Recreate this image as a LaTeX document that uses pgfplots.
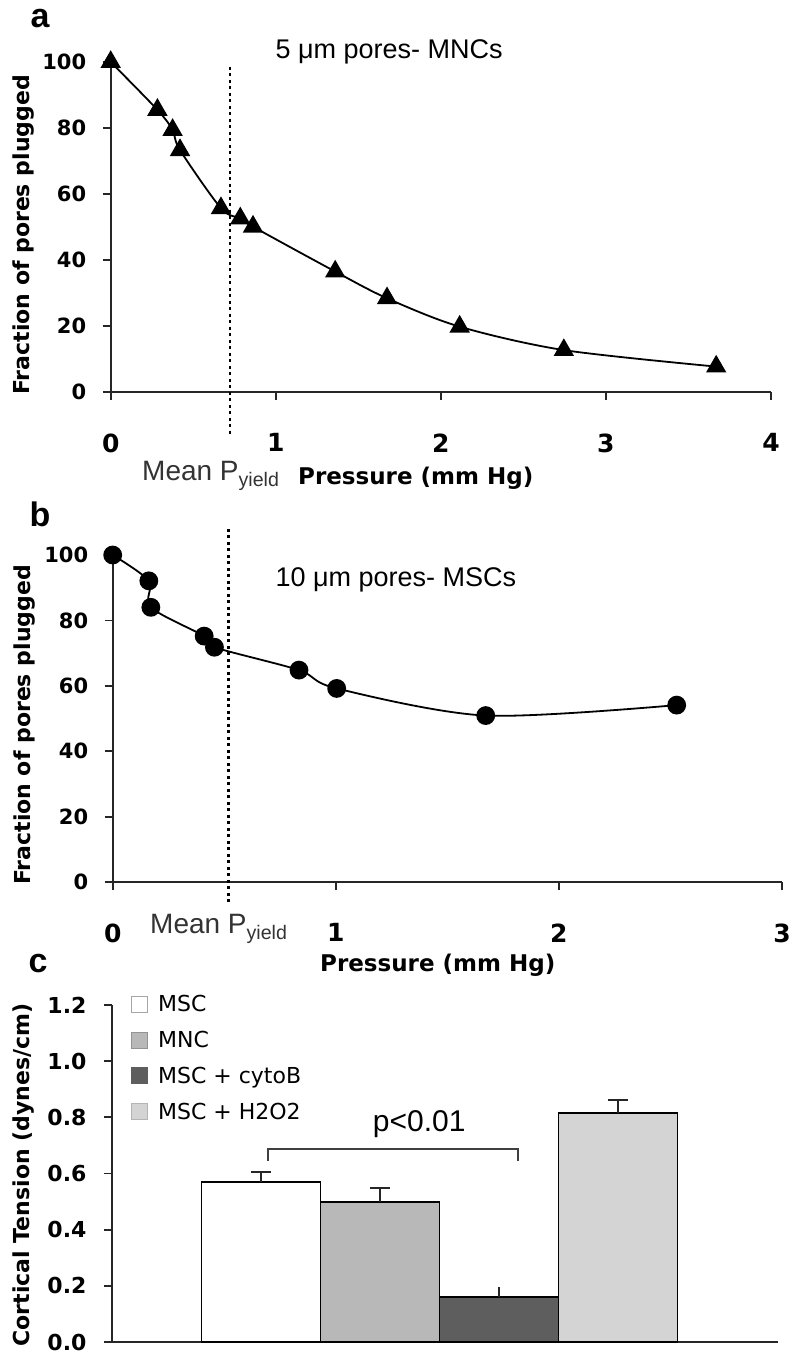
\documentclass[border=0pt]{standalone}
\usepackage{pgfplots}
\pgfplotsset{compat=1.18}
\usepackage{fontspec}
\newfontfamily\dv{DejaVu Sans}
\newfontfamily\ar{Liberation Sans}
\definecolor{mnc}{HTML}{B8B8B8}
\definecolor{cyto}{HTML}{5E5E5E}
\definecolor{hoo}{HTML}{D4D4D4}

\pgfplotsset{
  panel/.style={
    scale only axis, anchor=south west,
    axis x line*=bottom, axis y line*=left,
    xtick pos=bottom, ytick pos=left,
    axis line style={-, line width=1.8pt, black!85},
    tick align=outside, major tick length=8pt,
    tick style={line width=1.8pt, black!85},
    /pgf/number format/assume math mode=true,
    clip=false,
    yticklabel style={font=\dv\bfseries\fontsize{21}{21}\selectfont, xshift=-13pt},
    xticklabel style={font=\dv\bfseries\fontsize{25}{25}\selectfont, yshift=-30pt},
  },
  curve/.style={black, line width=1.8pt, smooth, tension=0.5},
  yieldline/.style={black, line width=2.6pt, dash pattern=on 3pt off 3.5pt},
  bars/.style={ybar, bar width=1, bar shift=0pt, draw=black, line width=1.6pt,
    error bars/y dir=plus, error bars/y explicit,
    error bars/error bar style={line width=1.6pt, black!85},
    error bars/error mark options={rotate=90, line width=1.6pt, mark size=10pt, black!85}},
  sq/.style 2 args={legend image code/.code={
    \draw[fill=#1, draw=#2, line width=1pt] (0pt,-8pt) rectangle (16pt,8pt);
    \path (24pt,0pt);}},
}

\begin{document}
\begin{tikzpicture}
\useasboundingbox (0,0) rectangle (794pt,-1355pt);

% ---- panel a
\begin{axis}[panel, at={(110.7pt,-392pt)}, width=660.3pt, height=330pt,
    xmin=0, xmax=4, ymin=0, ymax=100,
    xtick={0,1,2,3,4}, ytick={0,20,40,60,80,100}]
\addplot[yieldline] coordinates {(0.723,98.6) (0.723,-13.5)};
\addplot[curve, mark=triangle*, mark size=10pt, mark options={solid, fill=black}] coordinates {
  (0,100) (0.283,85.5) (0.375,79.4) (0.42,73.3) (0.668,55.7) (0.785,52.6)
  (0.862,50.1) (1.36,36.5) (1.674,28.4) (2.114,19.8) (2.745,12.7) (3.668,7.7)
};
\end{axis}

% ---- panel b
\begin{axis}[panel, at={(112.7pt,-882pt)}, width=669.3pt, height=327pt,
    xmin=0, xmax=3, ymin=0, ymax=100,
    xtick={0,1,2,3}, ytick={0,20,40,60,80,100}]
\addplot[yieldline] coordinates {(0.52,108) (0.52,-6.4)};
\addplot[curve, mark=*, mark size=8.5pt, mark options={solid, fill=black}] coordinates {
  (0,100) (0.162,92.1) (0.171,84.0) (0.41,75.2) (0.456,71.8) (0.835,64.8)
  (1.004,59.2) (1.672,50.9) (2.528,54.1)
};
\end{axis}

% ---- panel c
\begin{axis}[panel, at={(112pt,-1342pt)}, width=666pt, height=337pt,
    xmin=-0.252, xmax=5.345, ymin=0, ymax=1.2,
    xtick=\empty, ytick={0,0.2,0.4,0.6,0.8,1.0,1.2},
    yticklabel style={font=\dv\bfseries\fontsize{22}{22}\selectfont, xshift=-1pt,
      /pgf/number format/.cd, fixed, fixed zerofill, precision=1},
    legend style={draw=none, fill=none, at={(axis description cs:0.028,1.035)}, anchor=north west,
      font=\dv\fontsize{22}{22}\selectfont, row sep=14pt, inner sep=0pt,
      cells={anchor=west}},
    ]
\addplot[bars, fill=white, sq={white}{black!35}] coordinates {(1,0.570) +- (0,0.035)};
\addlegendentry{MSC}
\addplot[bars, fill=mnc, sq={mnc}{mnc!80!black}] coordinates {(2,0.498) +- (0,0.050)};
\addlegendentry{MNC}
\addplot[bars, fill=cyto, error bars/error mark=none, sq={cyto}{cyto}] coordinates {(3,0.160) +- (0,0.035)};
\addlegendentry{MSC + cytoB}
\addplot[bars, fill=hoo, sq={hoo}{hoo!85!black}] coordinates {(4,0.816) +- (0,0.045)};
\addlegendentry{MSC + H2O2}
\addplot[black!75, line width=1.6pt, forget plot] coordinates {(1.06,0.645) (1.06,0.687) (3.16,0.687) (3.16,0.643)};
\node[font=\ar\fontsize{30}{30}\selectfont] at (axis cs:2.33,0.775) {p<0.01};
\end{axis}

% ---- panel letters, titles and axis labels
\node[font=\ar\bfseries\fontsize{34}{34}\selectfont] at (40pt,-19pt) {a};
\node[font=\ar\bfseries\fontsize{34}{34}\selectfont] at (40pt,-514pt) {b};
\node[font=\ar\bfseries\fontsize{34}{34}\selectfont] at (38pt,-964pt) {c};

\node[font=\ar\fontsize{27}{27}\selectfont, anchor=west] at (272pt,-52pt) {5 μm pores- MNCs};
\node[font=\ar\fontsize{27}{27}\selectfont, anchor=west] at (272pt,-580pt) {10 μm pores- MSCs};

\node[font=\dv\bfseries\fontsize{22}{22}\selectfont, rotate=90] at (24pt,-235pt) {Fraction of pores plugged};
\node[font=\dv\bfseries\fontsize{22}{22}\selectfont, rotate=90] at (25pt,-725pt) {Fraction of pores plugged};
\node[font=\dv\bfseries\fontsize{22}{22}\selectfont, rotate=90] at (24pt,-1175pt) {Cortical Tension (dynes/cm)};

\node[font=\ar\fontsize{28}{28}\selectfont, text=black!80, anchor=west, inner sep=0pt] at (142pt,-476pt) {Mean P\textsubscript{yield}};
\node[font=\dv\bfseries\fontsize{23}{23}\selectfont, anchor=west, inner sep=0pt] at (298pt,-478pt) {Pressure (mm Hg)};
\node[font=\ar\fontsize{28}{28}\selectfont, text=black!80, anchor=west, inner sep=0pt] at (150pt,-929pt) {Mean P\textsubscript{yield}};
\node[font=\dv\bfseries\fontsize{23}{23}\selectfont, anchor=west, inner sep=0pt] at (320pt,-965pt) {Pressure (mm Hg)};
\end{tikzpicture}
\end{document}
